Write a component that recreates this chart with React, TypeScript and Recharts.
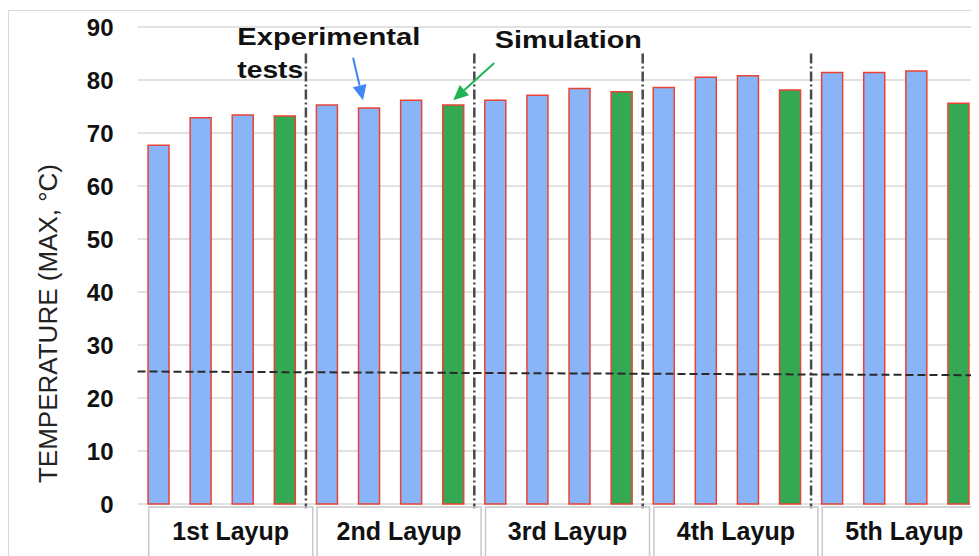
import React from "react";
import {
  BarChart,
  Bar,
  Cell,
  XAxis,
  YAxis,
  CartesianGrid,
  ReferenceLine,
} from "recharts";

const layups = ["1st Layup", "2nd Layup", "3rd Layup", "4th Layup", "5th Layup"];
// three experimental runs per layup
const experimental = [
  [67.7, 72.9, 73.4],
  [75.3, 74.7, 76.2],
  [76.2, 77.1, 78.4],
  [78.6, 80.5, 80.8],
  [81.4, 81.4, 81.7],
];
const simulation = [73.2, 75.3, 77.8, 78.1, 75.6];
// ambient reference, start and end of the run
const ambient = [25.0, 24.3];
const yTicks = [0, 10, 20, 30, 40, 50, 60, 70, 80, 90];

const rows = layups.flatMap((l, i) => [
  ...experimental[i].map((v, j) => ({ name: `${l} E${j + 1}`, temp: v, kind: "exp" })),
  { name: `${l} S`, temp: simulation[i], kind: "sim" },
]);
const first = rows[0].name;
const last = rows[rows.length - 1].name;

const FONT = "'Liberation Sans', Arial, sans-serif";
const BLUE = "#8ab4f8";
const GREEN = "#34a853";
const RED = "#ea4335";

// box + caption under each layup, anchored at the group's centre
const groupLabel = (text: string) => (p: any) => {
  const cx = p.x1 + 9;
  const y = p.y1;
  return (
    <g>
      <rect x={cx - 82} y={y + 3} width={164} height={70} fill="none" stroke="#c8c8c8" strokeWidth={1.5} />
      <text x={cx} y={y + 36} textAnchor="middle" fontFamily={FONT} fontSize={25} fontWeight={700} fill="#111">
        {text}
      </text>
    </g>
  );
};

// ambient line runs across the whole plot, so stretch it to the outer band edge
const ambientShape = (p: any) => {
  const band = (p.x2 - p.x1) / (rows.length - 1);
  return (
    <line
      x1={p.x1}
      y1={p.y1}
      x2={p.x2 + band}
      y2={p.y2}
      stroke="#2a2a2a"
      strokeWidth={2}
      strokeDasharray="8 4"
    />
  );
};

const arrow = (color: string, dx1: number, dx2: number) => (p: any) => {
  const x1 = p.x1 + dx1;
  const y1 = p.y1;
  const x2 = p.x2 + dx2;
  const y2 = p.y2;
  const a = Math.atan2(y2 - y1, x2 - x1);
  const L = 15;
  const w = 7;
  const bx = x2 - L * Math.cos(a);
  const by = y2 - L * Math.sin(a);
  const nx = -Math.sin(a) * w;
  const ny = Math.cos(a) * w;
  return (
    <g>
      <line x1={x1} y1={y1} x2={bx} y2={by} stroke={color} strokeWidth={2} />
      <polygon points={`${x2},${y2} ${bx + nx},${by + ny} ${bx - nx},${by - ny}`} fill={color} />
    </g>
  );
};

const note = (lines: string[], widths: number[], dx: number) => (p: any) => (
  <g>
    {lines.map((t, i) => (
      <text
        key={t}
        x={p.x1 + dx}
        y={p.y1 + i * 33}
        fontFamily={FONT}
        fontSize={24}
        fontWeight={700}
        fill="#111"
        textLength={widths[i]}
        lengthAdjust="spacingAndGlyphs"
      >
        {t}
      </text>
    ))}
  </g>
);

export default function App() {
  return (
    <div style={{ position: "relative", width: 971, height: 548, overflow: "hidden" }}>
      <div
        style={{
          position: "absolute",
          left: 0,
          top: 2,
          right: 0,
          bottom: 0,
          borderLeft: "1.5px solid #d9d9d9",
          borderTop: "1.5px solid #d9d9d9",
        }}
      />
      <div style={{ position: "absolute", left: 0, top: 0 }}>
        <BarChart
          width={972}
          height={548}
          data={rows}
          margin={{ top: 19, right: 0.5, bottom: 0, left: 19.5 }}
          barCategoryGap="25%"
        >
          <CartesianGrid vertical={false} stroke="#d9d9d9" strokeWidth={1.5} />
          <XAxis dataKey="name" height={52} axisLine={false} tickLine={false} tick={false} />
          <YAxis
            domain={[0, 90]}
            ticks={yTicks}
            width={110}
            axisLine={false}
            tickLine={false}
            tickMargin={18}
            tick={{ fontSize: 24, fontWeight: 700, fill: "#111", fontFamily: FONT }}
            label={{
              content: ({ viewBox }: any) => {
                const cx = viewBox.x + 20;
                const cy = viewBox.y + viewBox.height / 2 + 58;
                return (
                  <text
                    x={cx}
                    y={cy}
                    transform={`rotate(-90 ${cx} ${cy})`}
                    textAnchor="middle"
                    dominantBaseline="central"
                    fontFamily={FONT}
                    fontSize={26}
                    fill="#222"
                  >
                    TEMPERATURE (MAX, °C)
                  </text>
                );
              },
            }}
          />
          <Bar dataKey="temp" stroke={RED} strokeWidth={1.5} isAnimationActive={false}>
            {rows.map((r) => (
              <Cell key={r.name} fill={r.kind === "sim" ? GREEN : BLUE} />
            ))}
          </Bar>
          {layups.slice(1).map((l, i) => {
            const at = rows[(i + 1) * 4].name;
            return (
              <ReferenceLine
                key={l}
                segment={[
                  { x: at, y: 85 },
                  { x: at, y: -0.8 },
                ]}
                position="start"
                ifOverflow="visible"
                stroke="#4a4a4a"
                strokeWidth={2.5}
                strokeDasharray="10 3 2 3"
              />
            );
          })}
          <ReferenceLine
            segment={[
              { x: first, y: ambient[0] },
              { x: last, y: ambient[1] },
            ]}
            position="start"
            ifOverflow="visible"
            shape={ambientShape}
          />
          {layups.map((l, i) => {
            const at = rows[i * 4 + 1].name;
            return (
              <ReferenceLine
                key={l}
                segment={[
                  { x: at, y: 0 },
                  { x: at, y: 0 },
                ]}
                position="end"
                ifOverflow="visible"
                shape={groupLabel(l)}
              />
            );
          })}
          <ReferenceLine
            segment={[
              { x: rows[5].name, y: 84.2 },
              { x: rows[5].name, y: 76.2 },
            ]}
            ifOverflow="visible"
            shape={arrow("#4285f4", -16, -6)}
          />
          <ReferenceLine
            segment={[
              { x: rows[7].name, y: 83.2 },
              { x: rows[7].name, y: 76.2 },
            ]}
            ifOverflow="visible"
            shape={arrow("#1fb555", 41, 0)}
          />
          <ReferenceLine
            segment={[
              { x: rows[2].name, y: 86.6 },
              { x: rows[2].name, y: 86.6 },
            ]}
            ifOverflow="visible"
            shape={note(["Experimental", "tests"], [183, 66], -5.5)}
          />
          <ReferenceLine
            segment={[
              { x: rows[8].name, y: 86.0 },
              { x: rows[8].name, y: 86.0 },
            ]}
            ifOverflow="visible"
            shape={note(["Simulation"], [147], -0.5)}
          />
        </BarChart>
      </div>
    </div>
  );
}
